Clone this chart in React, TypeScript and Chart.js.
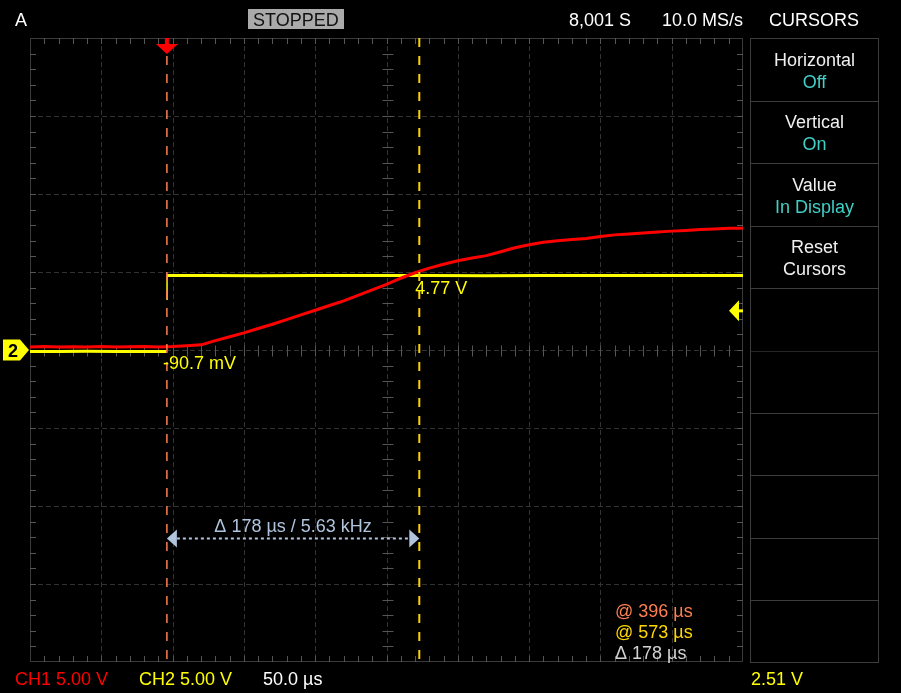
import { useEffect, useRef } from "react";
import { Chart, registerables } from "chart.js";
Chart.register(...registerables);

// ---- Data ----
const TIME_US = [
  300, 310, 320, 330, 340, 350, 360, 370, 380, 390,
  400, 410, 420, 430, 440, 450, 460, 470, 480, 490,
  500, 510, 520, 530, 540, 550, 560, 570, 580, 590,
  600, 610, 620, 630, 640, 650, 660, 670, 680, 690,
  700, 710, 720, 730, 740, 750, 760, 770, 780, 790, 800,
];
const CH1_V = [
  0.2, 0.22, 0.19, 0.21, 0.2, 0.23, 0.2, 0.21, 0.22, 0.2,
  0.22, 0.28, 0.33, 0.6, 0.85, 1.1, 1.38, 1.65, 1.95, 2.25,
  2.55, 2.85, 3.15, 3.5, 3.85, 4.2, 4.6, 4.95, 5.25, 5.5,
  5.72, 5.9, 6.05, 6.3, 6.55, 6.75, 6.9, 7.0, 7.08, 7.15,
  7.27, 7.38, 7.44, 7.5, 7.56, 7.62, 7.66, 7.72, 7.76, 7.8, 7.8,
];
// CH2 low level (before the edge)
const CH2_LOW_T = [300, 320, 340, 360, 380, 395.5];
const CH2_LOW_V = [-0.09, -0.1, -0.08, -0.09, -0.1, -0.09];
// CH2 edge samples
const CH2_EDGE_T = [396.1, 396.1];
const CH2_EDGE_V = [3.2, 4.77];
// CH2 high level (after the edge)
const CH2_HIGH_T = [396.1, 420, 460, 500, 540, 580, 620, 660, 700, 740, 780, 800];
const CH2_HIGH_V = [4.77, 4.77, 4.76, 4.78, 4.77, 4.77, 4.76, 4.77, 4.78, 4.77, 4.77, 4.77];
const CURSOR_T = [396, 573];
const TRIGGER_T = 396;
const TRIGGER_LEVEL_V = 2.51;
const CURSOR_VALUES = ["-90.7 mV", "4.77 V"];
const CURSOR_VALUE_V = [-0.09, 4.77];
const DELTA_LABEL = "Δ 178 µs / 5.63 kHz";
const READOUT = ["@ 396 µs", "@ 573 µs", "Δ 178 µs"];
const TOP_LABELS = ["A", "STOPPED", "8,001 S", "10.0 MS/s", "CURSORS"];
const BOTTOM_LABELS = ["CH1 5.00 V", "CH2 5.00 V", "50.0 µs", "2.51 V"];
const MENU_TITLES = ["Horizontal", "Vertical", "Value", "Reset"];
const MENU_VALUES = ["Off", "On", "In Display", "Cursors"];

const X_MIN = 300, X_MAX = 800, X_DIV = 50;
const Y_MIN = -20, Y_MAX = 20, Y_DIV = 5;
const FONT = "Liberation Sans, Arial, sans-serif";

const scopePlugin = {
  id: "scope",
  beforeDraw(chart: any) {
    const ctx = chart.ctx;
    ctx.save();
    ctx.fillStyle = "#000";
    ctx.fillRect(0, 0, chart.width, chart.height);
    ctx.restore();
  },
  beforeDatasetsDraw(chart: any) {
    const ctx = chart.ctx;
    const xs = chart.scales.x, ys = chart.scales.y;
    const { left, right, top, bottom } = chart.chartArea;
    ctx.save();
    ctx.lineWidth = 1;
    ctx.strokeStyle = "#333";
    ctx.setLineDash([5, 3]);
    for (let t = X_MIN + X_DIV; t < X_MAX; t += X_DIV) {
      const x = Math.round(xs.getPixelForValue(t)) + 0.5;
      ctx.beginPath(); ctx.moveTo(x, top); ctx.lineTo(x, bottom); ctx.stroke();
    }
    for (let v = Y_MIN + Y_DIV; v < Y_MAX; v += Y_DIV) {
      const y = Math.round(ys.getPixelForValue(v)) + 0.5;
      ctx.beginPath(); ctx.moveTo(left, y); ctx.lineTo(right, y); ctx.stroke();
    }
    ctx.setLineDash([]);
    ctx.strokeStyle = "#3a3a3a";
    ctx.strokeRect(left + 0.5, top + 0.5, right - left - 1, bottom - top - 1);
    ctx.strokeStyle = "#555";
    const cx = Math.round(xs.getPixelForValue((X_MIN + X_MAX) / 2)) + 0.5;
    const cy = Math.round(ys.getPixelForValue(0)) + 0.5;
    for (let t = X_MIN + X_DIV / 5; t < X_MAX; t += X_DIV / 5) {
      const x = Math.round(xs.getPixelForValue(t)) + 0.5;
      ctx.beginPath();
      ctx.moveTo(x, top); ctx.lineTo(x, top + 6);
      ctx.moveTo(x, bottom - 6); ctx.lineTo(x, bottom);
      ctx.moveTo(x, cy - 5); ctx.lineTo(x, cy + 6);
      ctx.stroke();
    }
    for (let v = Y_MIN + Y_DIV / 5; v < Y_MAX; v += Y_DIV / 5) {
      const y = Math.round(ys.getPixelForValue(v)) + 0.5;
      ctx.beginPath();
      ctx.moveTo(left, y); ctx.lineTo(left + 6, y);
      ctx.moveTo(right - 6, y); ctx.lineTo(right, y);
      ctx.moveTo(cx - 5, y); ctx.lineTo(cx + 6, y);
      ctx.stroke();
    }
    ctx.restore();
  },
  afterDraw(chart: any) {
    const ctx = chart.ctx;
    const xs = chart.scales.x, ys = chart.scales.y;
    const { right, top } = chart.chartArea;
    ctx.save();
    ctx.font = `18px ${FONT}`;
    ctx.textBaseline = "alphabetic";

    // top bar
    ctx.fillStyle = "#fff";
    ctx.textAlign = "left";
    ctx.fillText(TOP_LABELS[0], 15, 26);
    ctx.fillStyle = "#aaa";
    ctx.fillRect(248, 9, 96, 20);
    ctx.fillStyle = "#111";
    ctx.fillText(TOP_LABELS[1], 253, 26);
    ctx.fillStyle = "#fff";
    ctx.fillText(TOP_LABELS[2], 569, 26);
    ctx.fillText(TOP_LABELS[3], 662, 26);
    ctx.fillText(TOP_LABELS[4], 769, 26);

    // bottom bar
    ctx.fillStyle = "#ff0000";
    ctx.fillText(BOTTOM_LABELS[0], 15, 685);
    ctx.fillStyle = "#ffff00";
    ctx.fillText(BOTTOM_LABELS[1], 139, 685);
    ctx.fillStyle = "#fff";
    ctx.fillText(BOTTOM_LABELS[2], 263, 685);
    ctx.fillStyle = "#ffff00";
    ctx.fillText(BOTTOM_LABELS[3], 751, 685);

    // right menu panel
    const pL = 750.5, pR = 878.5, pT = 38.5, pB = 662.5;
    const rowH = (pB - pT) / 10;
    ctx.strokeStyle = "#3c3c3c";
    ctx.lineWidth = 1;
    ctx.strokeRect(pL, pT, pR - pL, pB - pT);
    for (let k = 1; k < 10; k++) {
      const y = Math.round(pT + rowH * k) + 0.5;
      ctx.strokeStyle = k === 5 ? "#262626" : "#3c3c3c";
      ctx.beginPath(); ctx.moveTo(pL, y); ctx.lineTo(pR, y); ctx.stroke();
    }
    ctx.textAlign = "center";
    const mx = (pL + pR) / 2;
    for (let i = 0; i < MENU_TITLES.length; i++) {
      const rt = 38 + rowH * i;
      ctx.fillStyle = "#f0f0f0";
      ctx.fillText(MENU_TITLES[i], mx, rt + 28);
      ctx.fillStyle = i === 3 ? "#f0f0f0" : "#41cfc6";
      ctx.fillText(MENU_VALUES[i], mx, rt + 50);
    }

    // cursor value labels
    ctx.textAlign = "left";
    ctx.fillStyle = "#ffff00";
    for (let i = 0; i < CURSOR_T.length; i++) {
      const x = xs.getPixelForValue(CURSOR_T[i]);
      const y = ys.getPixelForValue(CURSOR_VALUE_V[i]);
      ctx.fillText(CURSOR_VALUES[i], x - 4, y + 18);
    }

    // delta arrow
    const x1 = xs.getPixelForValue(CURSOR_T[0]);
    const x2 = xs.getPixelForValue(CURSOR_T[1]);
    const ay = Math.round(ys.getPixelForValue(-12.05)) + 0.5;
    ctx.strokeStyle = "#b0c4de";
    ctx.fillStyle = "#b0c4de";
    ctx.lineWidth = 2;
    ctx.setLineDash([3, 3]);
    ctx.beginPath(); ctx.moveTo(x1 + 10, ay); ctx.lineTo(x2 - 10, ay); ctx.stroke();
    ctx.setLineDash([]);
    ctx.beginPath(); ctx.moveTo(x1, ay); ctx.lineTo(x1 + 10, ay - 9); ctx.lineTo(x1 + 10, ay + 9); ctx.closePath(); ctx.fill();
    ctx.beginPath(); ctx.moveTo(x2, ay); ctx.lineTo(x2 - 10, ay - 9); ctx.lineTo(x2 - 10, ay + 9); ctx.closePath(); ctx.fill();
    ctx.textAlign = "center";
    ctx.fillText(DELTA_LABEL, (x1 + x2) / 2, ay - 7);

    // readout
    ctx.textAlign = "left";
    ctx.fillStyle = "#ff7f50";
    ctx.fillText(READOUT[0], 615, 617);
    ctx.fillStyle = "#ffd700";
    ctx.fillText(READOUT[1], 615, 638);
    ctx.fillStyle = "#d3d3d3";
    ctx.fillText(READOUT[2], 615, 659);

    // trigger position marker
    const tx = xs.getPixelForValue(TRIGGER_T);
    ctx.fillStyle = "#ff0000";
    ctx.fillRect(tx - 2, top, 4, 7);
    ctx.beginPath(); ctx.moveTo(tx - 11, top + 6); ctx.lineTo(tx + 11, top + 6); ctx.lineTo(tx, top + 16); ctx.closePath(); ctx.fill();

    // CH2 ground marker
    const gy = ys.getPixelForValue(0);
    ctx.fillStyle = "#ffff00";
    ctx.beginPath();
    ctx.moveTo(3, gy - 10.5); ctx.lineTo(20, gy - 10.5); ctx.lineTo(29, gy);
    ctx.lineTo(20, gy + 10.5); ctx.lineTo(3, gy + 10.5); ctx.closePath(); ctx.fill();
    ctx.fillStyle = "#000";
    ctx.font = `bold 18px ${FONT}`;
    ctx.textAlign = "center";
    ctx.fillText("2", 13, gy + 7);

    // trigger level marker
    const ly = ys.getPixelForValue(TRIGGER_LEVEL_V);
    ctx.fillStyle = "#ffff00";
    ctx.beginPath(); ctx.moveTo(right - 14, ly); ctx.lineTo(right - 4, ly - 10.5); ctx.lineTo(right - 4, ly + 10.5); ctx.closePath(); ctx.fill();
    ctx.fillRect(right - 5, ly - 1.5, 5, 3);
    ctx.restore();
  },
};

export default function App() {
  const ref = useRef<HTMLCanvasElement>(null);
  useEffect(() => {
    document.body.style.margin = "0";
    document.body.style.background = "#000";
    document.body.style.overflow = "hidden";
    const canvas = ref.current!;
    const chart = new Chart(canvas, {
      type: "line",
      data: {
        datasets: [
          {
            label: "Cursor 1",
            data: [{ x: CURSOR_T[0], y: Y_MAX }, { x: CURSOR_T[0], y: Y_MIN }],
            borderColor: "#ff7f50",
            borderWidth: 1.5,
            borderDash: [9, 9],
            pointRadius: 0,
          },
          {
            label: "Cursor 2",
            data: [{ x: CURSOR_T[1], y: Y_MAX }, { x: CURSOR_T[1], y: Y_MIN }],
            borderColor: "#ffd000",
            borderWidth: 2,
            borderDash: [9, 9],
            pointRadius: 0,
          },
          {
            label: "CH1",
            data: TIME_US.map((t, i) => ({ x: t, y: CH1_V[i] })),
            borderColor: "#ff0000",
            borderWidth: 3,
            pointRadius: 0,
          },
          {
            label: "CH2 edge",
            data: CH2_EDGE_T.map((t, i) => ({ x: t, y: CH2_EDGE_V[i] })),
            borderColor: "#ffff00",
            borderWidth: 1.5,
            pointRadius: 0,
          },
          {
            label: "CH2 high",
            data: CH2_HIGH_T.map((t, i) => ({ x: t, y: CH2_HIGH_V[i] })),
            borderColor: "#ffff00",
            borderWidth: 3,
            pointRadius: 0,
          },
          {
            label: "CH2 low",
            data: CH2_LOW_T.map((t, i) => ({ x: t, y: CH2_LOW_V[i] })),
            borderColor: "#ffff00",
            borderWidth: 3,
            pointRadius: 0,
          },
        ],
      },
      options: {
        animation: false,
        responsive: false,
        maintainAspectRatio: false,
        layout: { padding: { left: 30, top: 38, right: 158, bottom: 31 } },
        scales: {
          x: { type: "linear", min: X_MIN, max: X_MAX, display: false },
          y: { type: "linear", min: Y_MIN, max: Y_MAX, display: false },
        },
        plugins: { legend: { display: false }, tooltip: { enabled: false } },
        elements: { line: { tension: 0 }, point: { radius: 0 } },
      },
      plugins: [scopePlugin],
    });
    return () => chart.destroy();
  }, []);
  return (
    <div style={{ width: 901, height: 693, background: "#000" }}>
      <canvas ref={ref} width={901} height={693} style={{ display: "block" }} />
    </div>
  );
}
